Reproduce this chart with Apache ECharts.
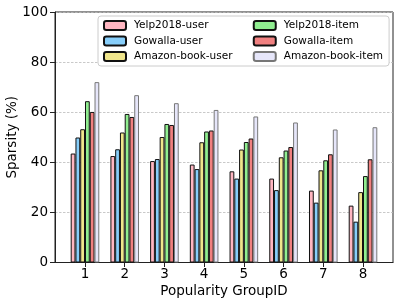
<!DOCTYPE html>
<html>
<head>
<meta charset="utf-8">
<script src="https://cdn.jsdelivr.net/npm/echarts@6/dist/echarts.min.js"></script>
<style>
html,body{margin:0;padding:0;background:#fff;}
#chart{width:399px;height:303px;}
</style>
</head>
<body>
<div id="chart"></div>
<script>
var groups = [1, 2, 3, 4, 5, 6, 7, 8];
var seriesNames = ['Yelp2018-user', 'Gowalla-user', 'Amazon-book-user', 'Yelp2018-item', 'Gowalla-item', 'Amazon-book-item'];
var yelpUser    = [43.5, 42.5, 40.5, 39.1, 36.4, 33.5, 28.7, 22.7];
var gowallaUser = [49.9, 45.2, 41.3, 37.3, 33.5, 28.9, 23.9, 16.3];
var amazonUser  = [53.2, 51.9, 50.1, 48.0, 45.1, 42.0, 36.8, 28.1];
var yelpItem    = [64.4, 59.3, 55.3, 52.3, 48.1, 44.7, 40.8, 34.5];
var gowallaItem = [60.1, 58.1, 54.9, 52.7, 49.5, 46.1, 43.2, 41.2];
var amazonItem  = [72.0, 66.8, 63.6, 60.9, 58.3, 55.9, 53.1, 54.0];
var yTicks = [0, 20, 40, 60, 80, 100];

var allValues = [yelpUser, gowallaUser, amazonUser, yelpItem, gowallaItem, amazonItem];
var colors = ['#FFB6C1', '#87CEFA', '#F0E68C', '#90EE90', '#F08080', '#E6E6FA'];
var borders = ['#111', '#111', '#111', '#111', '#111', '#777'];
var FONT = 'DejaVu Sans';

var series = allValues.map(function (vals, i) {
  return {
    name: seriesNames[i],
    type: 'bar',
    barWidth: '12%',
    barGap: '0%',
    itemStyle: { color: colors[i], borderColor: borders[i], borderWidth: 1 },
    data: vals.map(function (v, j) { return [groups[j], v]; })
  };
});

var legendData = seriesNames.map(function (n) {
  return { name: n, textStyle: { padding: [0, 0, 0, 3] } };
});

var chart = echarts.init(document.getElementById('chart'), null, { renderer: 'canvas' });
chart.setOption({
  animation: false,
  textStyle: { fontFamily: FONT },
  grid: { left: 55, right: 6, top: 12, bottom: 40.5, containLabel: false, outerBoundsMode: 'none',
    show: true, borderColor: '#222', borderWidth: 1, backgroundColor: 'transparent' },
  legend: {
    orient: 'vertical',
    left: 98,
    top: 16,
    height: 44,
    padding: [4, 6, 4, 5],
    itemWidth: 22,
    itemHeight: 9,
    itemGap: 4.5,
    backgroundColor: '#fff',
    borderColor: '#ccc',
    borderWidth: 1,
    borderRadius: 3,
    textStyle: { fontFamily: FONT, fontSize: 10.5, color: '#000' },
    formatter: function (name) {
      return seriesNames.indexOf(name) < 3 ? name + '\u2002\u2002\u2002' : name;
    },
    data: legendData
  },
  xAxis: {
    type: 'value',
    min: 0.245,
    max: 8.755,
    name: 'Popularity GroupID',
    nameLocation: 'middle',
    nameGap: 22,
    nameMoveOverlap: false,
    nameTextStyle: { fontFamily: FONT, fontSize: 13.5, color: '#000' },
    axisLine: { show: true, lineStyle: { color: '#222', width: 1 } },
    axisTick: { show: true, length: 4.5, lineStyle: { color: '#222' }, customValues: groups },
    axisLabel: { fontFamily: FONT, fontSize: 13.5, color: '#000', margin: 5, customValues: groups },
    splitLine: { show: false }
  },
  yAxis: {
    type: 'value',
    min: 0,
    max: 100,
    interval: 20,
    name: 'Sparsity (%)',
    nameLocation: 'middle',
    nameGap: 36,
    nameMoveOverlap: false,
    nameTextStyle: { fontFamily: FONT, fontSize: 13.5, color: '#000' },
    axisLine: { show: true, lineStyle: { color: '#222', width: 1 } },
    axisTick: { show: true, length: 5, lineStyle: { color: '#222' } },
    axisLabel: { fontFamily: FONT, fontSize: 13.5, color: '#000', margin: 7,
      formatter: function (v) { return yTicks.indexOf(v) >= 0 ? String(v) : ''; } },
    splitLine: { show: true, lineStyle: { color: '#bbb', width: 0.8, type: [2.5, 1.5] } }
  },
  series: series
});
</script>
</body>
</html>
